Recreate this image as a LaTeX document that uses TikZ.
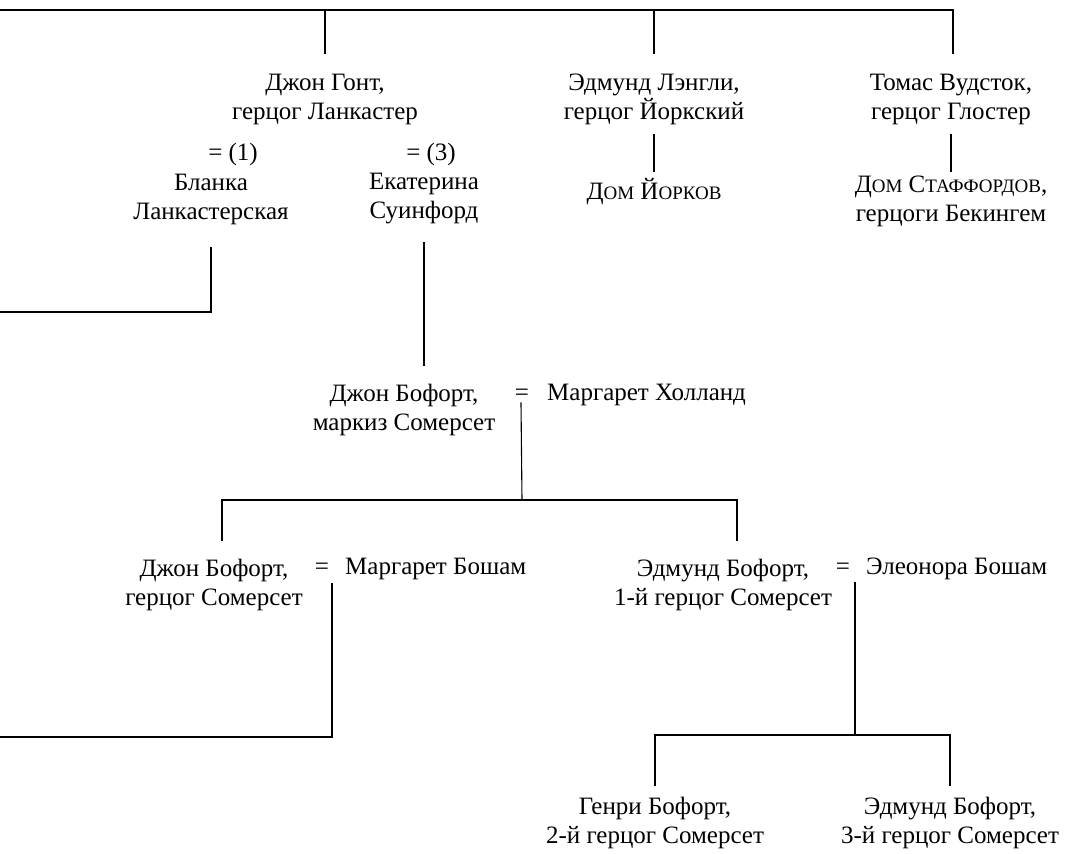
\documentclass[tikz,border=0pt]{standalone}
\usepackage{fontspec}
\setmainfont{Liberation Serif}
\usetikzlibrary{positioning}

\newcommand{\persfont}{\fontsize{25}{29}\selectfont}
\newcommand{\fakesc}[1]{{\fontsize{19}{29}\selectfont #1}}

\tikzset{
  person/.style={align=center, inner sep=0pt, font=\persfont},
  link/.style={line width=1.1pt, line cap=rect},
}

\begin{document}
\begin{tikzpicture}[x=1pt,y=-1pt]
\useasboundingbox (0,0) rectangle (1071,854);

% sons of the king
\node[person] (gaunt) at (325,99) {Джон Гонт,\\герцог Ланкастер};
\node[person] (york)  at (654,99) {Эдмунд Лэнгли,\\герцог Йоркский};
\node[person] (glos)  at (951,99) {Томас Вудсток,\\герцог Глостер};

% wives of Gaunt
\node[person] (mar1)    at (233,154) {= (1)};
\node[person] (blanche) at (211,199) {Бланка\\Ланкастерская};
\node[person] (mar3)    at (431,154) {= (3)};
\node[person] (kath)    at (424,199) {Екатерина\\Суинфорд};

% houses
\node[person] (yorks) at (654,192) {Д\fakesc{ОМ} Й\fakesc{ОРКОВ}};
\node[person] (staff) at (951,201) {Д\fakesc{ОМ} С\fakesc{ТАФФОРДОВ},\\герцоги Бекингем};

% Beauforts
\node[person] (johnB) at (404,410) {Джон Бофорт,\\маркиз Сомерсет};
\node[person] (eqA)   at (522,395) {=};
\node[person, anchor=west] (margH) at (547,395) {Маргарет Холланд};

\node[person] (johnS) at (214,585) {Джон Бофорт,\\герцог Сомерсет};
\node[person] (eqB)   at (322,569) {=};
\node[person, anchor=west] (margB) at (345,569) {Маргарет Бошам};

\node[person] (edmS)  at (723,585) {Эдмунд Бофорт,\\1-й герцог Сомерсет};
\node[person] (eqC)   at (843,569) {=};
\node[person, anchor=west] (elea) at (866,569) {Элеонора Бошам};

\node[person] (henry) at (655,823) {Генри Бофорт,\\2-й герцог Сомерсет};
\node[person] (edm3)  at (950,823) {Эдмунд Бофорт,\\3-й герцог Сомерсет};

% top bar
\coordinate (topL) at (0,10);
\coordinate (topR) at (953,10);
\draw[link] (topL) -- (topR) -- ++(0,43);
\draw[link] (gaunt |- topL) -- ++(0,43);
\draw[link] (york |- topL) -- ++(0,43);

% houses
\draw[link] (654,135) -- (654,171);
\draw[link] (951,135) -- (951,171);

% Blanche and Katherine
\coordinate (blL) at (0,312);
\draw[link] (211,248) |- (blL);
\draw[link] (424,243) -- (424,365);

% marquess Somerset
\coordinate (barAl) at (222,500);
\coordinate (barAr) at (737,500);
\draw[link] (521,403) -- (eqA |- barAl);
\draw[link] (barAl) ++(0,40) -- (barAl) -- (barAr) -- ++(0,40);

% John, duke of Somerset
\coordinate (jsL) at (0,737);
\draw[link] (332,584) |- (jsL);

% Edmund, 1st duke
\coordinate (barBl) at (655,735);
\coordinate (barBr) at (950,735);
\draw[link] (855,583) -- (855,735);
\draw[link] (barBl) ++(0,50) -- (barBl) -- (barBr) -- ++(0,50);
\end{tikzpicture}
\end{document}
